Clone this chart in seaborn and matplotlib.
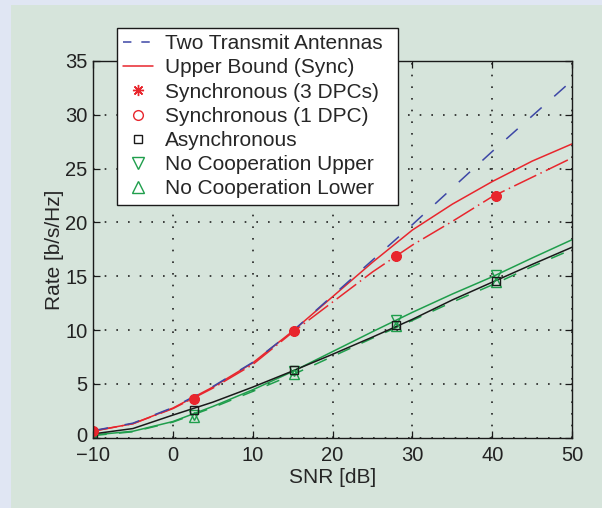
import matplotlib
matplotlib.use("Agg")
import matplotlib.pyplot as plt
import matplotlib.transforms as mtransforms
from matplotlib.lines import Line2D
from matplotlib.patches import Rectangle
import numpy as np
import pandas as pd
import seaborn as sns

# ---- data -------------------------------------------------------------
snr = [-10, -5, 0, 5, 10, 15, 20, 25, 30, 35, 40, 45, 50]
two_tx = [0.65, 1.35, 2.8, 4.75, 7.0, 9.9, 13.2, 16.5, 19.8, 23.2, 26.6, 29.9, 33.2]
upper_sync = [0.62, 1.3, 2.75, 4.7, 6.95, 9.9, 13.1, 16.3, 19.3, 21.7, 23.8, 25.7, 27.3]
sync_dpc = [0.6, 1.3, 2.7, 4.6, 6.8, 9.8, 12.6, 15.4, 17.9, 20.1, 22.4, 24.2, 26.0]
async_rate = [0.35, 0.85, 2.1, 3.3, 4.7, 6.2, 7.75, 9.35, 11.0, 12.8, 14.45, 16.1, 17.7]
nocoop_upper = [0.25, 0.6, 1.5, 2.9, 4.45, 6.15, 8.0, 9.85, 11.65, 13.35, 14.95, 16.7, 18.4]
nocoop_lower = [0.2, 0.55, 1.45, 2.8, 4.3, 5.85, 7.55, 9.25, 10.9, 12.6, 14.2, 15.9, 17.5]

snr_marks = [-10, 2.6, 15.2, 27.9, 40.5]
sync3_marks = [0.6, 3.6, 9.9, 16.9, 22.5]
sync1_marks = [0.6, 3.6, 9.9, 16.9, 22.5]
async_marks = [0.35, 2.55, 6.3, 10.5, 14.6]
upper_marks = [0.2, 2.1, 6.15, 10.95, 15.1]
lower_marks = [0.15, 1.95, 5.95, 10.35, 14.5]

labels = ["Two Transmit Antennas", "Upper Bound (Sync)", "Synchronous (3 DPCs)",
          "Synchronous (1 DPC)", "Asynchronous", "No Cooperation Upper",
          "No Cooperation Lower"]

xticks = [-10, 0, 10, 20, 30, 40, 50]
yticks = [0, 5, 10, 15, 20, 25, 30, 35]

# ---- style ------------------------------------------------------------
BLUE = "#3d47a6"
RED = "#e8262d"
BLACK = "#1a1a1a"
GREEN = "#1f9e4c"
OUTER = "#e0e6f3"
PANEL = "#d6e4db"
ASTERISK = (8, 2, 0)

sns.set_style("ticks")
plt.rcParams["font.family"] = ["Liberation Sans", "DejaVu Sans"]
plt.rcParams["axes.unicode_minus"] = True

fig = plt.figure(figsize=(6.02, 5.08), dpi=100, facecolor=OUTER)
fig.add_artist(Rectangle((11 / 602, 0), 1, 1 - 5 / 508, transform=fig.transFigure,
                         facecolor=PANEL, edgecolor="none", zorder=-10))
ax = fig.add_axes([0.1545, 0.1384, 0.796, 0.7416])
ax.set_facecolor("none")

lw = 1.1
curves = pd.DataFrame({"snr": snr, "two_tx": two_tx, "upper": upper_sync,
                       "dpc": sync_dpc, "async": async_rate,
                       "nc_up": nocoop_upper, "nc_lo": nocoop_lower})
marks = pd.DataFrame({"snr": snr_marks, "s3": sync3_marks, "s1": sync1_marks,
                      "asy": async_marks, "up": upper_marks, "lo": lower_marks})

sns.lineplot(data=curves, x="snr", y="nc_lo", ax=ax, color=GREEN, lw=lw,
             linestyle=(0, (9, 8)))
sns.lineplot(data=curves, x="snr", y="nc_up", ax=ax, color=GREEN, lw=lw)
sns.lineplot(data=curves, x="snr", y="async", ax=ax, color=BLACK, lw=lw)
sns.lineplot(data=curves, x="snr", y="dpc", ax=ax, color=RED, lw=lw,
             linestyle=(0, (16, 3, 1, 3)))
sns.lineplot(data=curves, x="snr", y="upper", ax=ax, color=RED, lw=lw)
sns.lineplot(data=curves, x="snr", y="two_tx", ax=ax, color=BLUE, lw=lw,
             linestyle=(0, (10, 11)))

# point markers at the simulated SNR values
def points(col, marker, color, size, fill="none", mew=1.0):
    sns.lineplot(data=marks, x="snr", y=col, ax=ax, color=color, linestyle="none",
                 marker=marker, markersize=size, markerfacecolor=fill,
                 markeredgecolor=color, markeredgewidth=mew)

points("lo", "^", GREEN, 7)
points("up", "v", GREEN, 7)
points("asy", "s", BLACK, 5.5)
points("s1", "o", RED, 6.5, mew=1.4)
points("s3", ASTERISK, RED, 7, fill=RED, mew=2.2)

ax.set_xlim(-10, 50)
ax.set_ylim(0, 35)
ax.set_xticks(xticks)
ax.set_yticks(yticks)
ax.set_xlabel("SNR [dB]", fontsize=15, labelpad=2)
ax.set_ylabel("Rate [b/s/Hz]", fontsize=15, labelpad=1)
ax.tick_params(direction="in", length=5, width=0.9, top=True, right=True,
               labelsize=14.5, pad=4, color=BLACK, labelcolor="#222222")
ax.tick_params(axis="x", pad=6)
for sp in ax.spines.values():
    sp.set_visible(True)
    sp.set_linewidth(1.0)
    sp.set_color(BLACK)
ax.grid(True, color="#222222", linewidth=1.2, linestyle=(0, (1, 6)))

# lift the "0" on the y axis a little so it clears the x tick labels
lift = mtransforms.ScaledTranslation(0, 3 / 100, fig.dpi_scale_trans)
first = ax.get_yticklabels()[0]
first.set_transform(first.get_transform() + lift)

handles = [
    Line2D([], [], color=BLUE, lw=lw, linestyle=(0, (5.5, 6.5))),
    Line2D([], [], color=RED, lw=lw),
    Line2D([], [], color=RED, linestyle="none", marker=ASTERISK, markersize=8,
           markeredgewidth=1.0),
    Line2D([], [], color=RED, linestyle="none", marker="o", markersize=7,
           markerfacecolor="none", markeredgewidth=1.0),
    Line2D([], [], color=BLACK, linestyle="none", marker="s", markersize=5.5,
           markerfacecolor="none", markeredgewidth=1.0),
    Line2D([], [], color=GREEN, linestyle="none", marker="v", markersize=8,
           markerfacecolor="none", markeredgewidth=1.0),
    Line2D([], [], color=GREEN, linestyle="none", marker="^", markersize=8,
           markerfacecolor="none", markeredgewidth=1.0),
]
leg = ax.legend(handles, labels, loc="upper left",
                bbox_to_anchor=(0.0501, 0.0, 0.5863, 1.0876), mode="expand",
                borderaxespad=0, fontsize=15, frameon=True, fancybox=False,
                framealpha=1, edgecolor=BLACK, facecolor="white",
                handlelength=1.45, handletextpad=0.55, labelspacing=0.25,
                borderpad=0.3)
leg.get_frame().set_linewidth(1.0)
leg.set_zorder(10)

fig.savefig("out.png", dpi=100, facecolor=OUTER)
